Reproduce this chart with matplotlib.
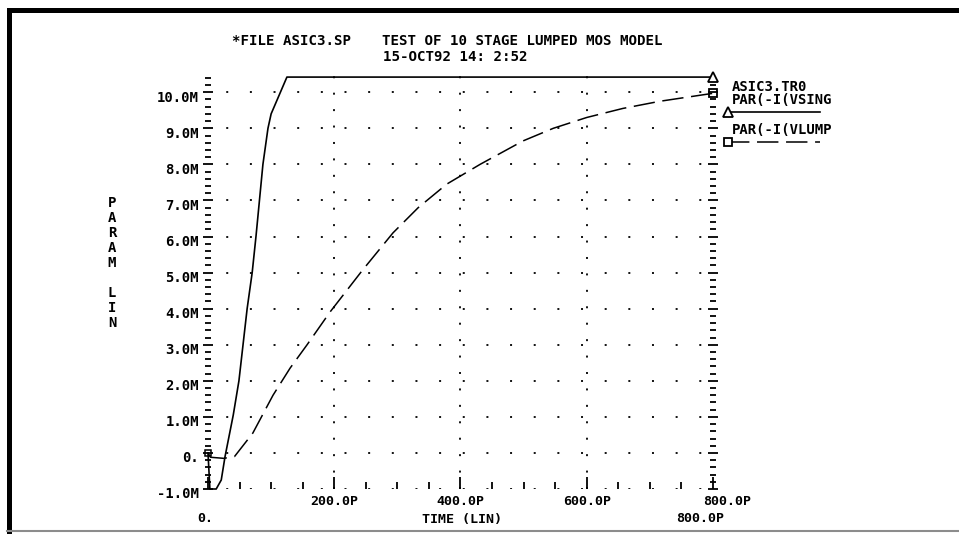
import matplotlib
matplotlib.use('Agg')
import matplotlib.pyplot as plt
from matplotlib.lines import Line2D
from matplotlib.patches import Rectangle
from matplotlib.ticker import FixedLocator, MultipleLocator
from matplotlib.transforms import ScaledTranslation, blended_transform_factory

# ---- data (time in ps, current in mA) ----
t_sing = [0, 3, 13, 21, 27, 40, 49, 62, 70, 76, 87, 95, 100, 125, 800]
i_sing = [0, -1.0, -1.0, -0.75, -0.1, 1.05, 2.0, 4.0, 5.0, 6.0, 8.0, 9.0, 9.4, 10.42, 10.42]

t_lump = [0, 4, 25, 42, 71, 103, 130, 157, 193, 244, 293, 333, 378, 431, 499, 547, 600, 657, 716, 800]
i_lump = [0, -0.12, -0.15, -0.1, 0.55, 1.6, 2.35, 3.0, 3.9, 5.05, 6.1, 6.8, 7.45, 8.0, 8.65, 9.0, 9.3, 9.55, 9.75, 9.97]

y_ticks = [-1, 0, 1, 2, 3, 4, 5, 6, 7, 8, 9, 10]
y_labels = ['-1.0M', '0.', '1.0M', '2.0M', '3.0M', '4.0M', '5.0M',
            '6.0M', '7.0M', '8.0M', '9.0M', '10.0M']
x_ticks = [0, 200, 400, 600, 800]
x_labels = ['', '200.0P', '400.0P', '600.0P', '800.0P']

title_file = '*FILE ASIC3.SP'
title_test = 'TEST OF 10 STAGE LUMPED MOS MODEL'
title_date = '15-OCT92 14: 2:52'
legend_file = 'ASIC3.TR0'
name_sing = 'PAR(-I(VSING'
name_lump = 'PAR(-I(VLUMP'
x_name = 'TIME (LIN)'
x_min_label = '0.'
x_max_label = '800.0P'
y_name = ['P', 'A', 'R', 'A', 'M', '', 'L', 'I', 'N']

plt.rcParams['font.family'] = ['DejaVu Sans Mono']
plt.rcParams['font.weight'] = 'bold'

W, H = 959, 534
fig = plt.figure(figsize=(W / 100, H / 100), dpi=100)
fig.patch.set_facecolor('white')


def fx(px):
    return px / W


def fy(py):
    return 1 - py / H


ax = fig.add_axes([fx(208), fy(489), fx(713) - fx(208), fy(76) - fy(489)])
ax.set_xlim(0, 800)
ax.set_ylim(-1, 10.45)
for s in ax.spines.values():
    s.set_visible(False)

ax.yaxis.set_major_locator(FixedLocator(y_ticks))
ax.set_yticklabels(y_labels)
ax.yaxis.set_minor_locator(MultipleLocator(0.2))
ax.xaxis.set_major_locator(FixedLocator(x_ticks))
ax.set_xticklabels(x_labels)
ax.xaxis.set_minor_locator(MultipleLocator(50))

# dotted grid
ax.yaxis.grid(True, which='major', color='k', lw=1.3, linestyle=(3, (1.1, 12)))
for xv in x_ticks[1:-1]:
    ax.axvline(xv, color='k', lw=1.3, linestyle=(0, (1.1, 8)), zorder=1)

ax.tick_params(axis='y', which='both', direction='inout', left=True, right=True,
               width=1.3, labelsize=10, pad=3)
ax.tick_params(axis='y', which='major', length=7)
ax.tick_params(axis='y', which='minor', length=5)
ax.tick_params(axis='x', which='both', direction='in', bottom=True, top=False,
               width=1.3, labelsize=9.6)
ax.tick_params(axis='x', which='major', length=9, pad=4)
ax.tick_params(axis='x', which='minor', length=5)

offset = ScaledTranslation(0, -4 / 100, fig.dpi_scale_trans)
for lbl in ax.get_yticklabels():
    lbl.set_transform(lbl.get_transform() + offset)
xlbls = ax.get_xticklabels()
xlbls[-1].set_transform(xlbls[-1].get_transform()
                        + ScaledTranslation(14 / 100, 0, fig.dpi_scale_trans))

# curves
ax.plot(t_sing, i_sing, color='k', lw=1.2, clip_on=False, zorder=3)
ax.plot(t_lump, i_lump, color='k', lw=1.1, dashes=(14, 5), clip_on=False, zorder=3)
ax.plot([t_sing[-1]], [i_sing[-1]], marker='^', ms=7, mfc='white', mec='k',
        mew=1.3, clip_on=False, zorder=4)
ax.plot([t_lump[-1]], [i_lump[-1]], marker='s', ms=6, mfc='none', mec='k',
        mew=1.3, clip_on=False, zorder=4)
ax.plot([t_lump[0]], [i_lump[0]], marker='s', ms=4, mfc='none', mec='k',
        mew=1.1, clip_on=False, zorder=4)

# lower x labels (x range)
bt = blended_transform_factory(ax.transData, fig.transFigure)
ax.text(x_ticks[0] - 5, fy(519), x_min_label, transform=bt,
        ha='center', va='center', fontsize=9.6)
ax.text(x_ticks[-1] - 20, fy(519), x_max_label, transform=bt,
        ha='center', va='center', fontsize=9.6)
fig.text(fx(462), fy(519), x_name, ha='center', va='center', fontsize=9.6)

# y axis name (stacked letters)
for k, ch in enumerate(y_name):
    if ch:
        fig.text(fx(112), fy(203 + 15 * k), ch, ha='center', va='center', fontsize=10)

# titles
fig.text(fx(232), fy(41), title_file, ha='left', va='center', fontsize=10.2)
fig.text(fx(382), fy(41), title_test, ha='left', va='center', fontsize=10.2)
fig.text(fx(383), fy(57), title_date, ha='left', va='center', fontsize=10.2)

# legend
fig.text(fx(732), fy(87), legend_file, ha='left', va='center', fontsize=10)
fig.text(fx(732), fy(100), name_sing, ha='left', va='center', fontsize=10)
fig.add_artist(Line2D([fx(728), fx(820)], [fy(112), fy(112)], color='k', lw=1.2,
                      marker='^', markevery=[0], ms=7, mfc='white', mec='k', mew=1.3,
                      transform=fig.transFigure))
fig.text(fx(732), fy(130), name_lump, ha='left', va='center', fontsize=10)
fig.add_artist(Line2D([fx(728), fx(820)], [fy(142), fy(142)], color='k', lw=1.1,
                      dashes=(14, 5), marker='s', markevery=[0], ms=6, mfc='white',
                      mec='k', mew=1.3, transform=fig.transFigure))

# frame
fig.add_artist(Rectangle((fx(7), fy(13)), 1 - fx(7), 5 / H, transform=fig.transFigure,
                         color='k', lw=0))
fig.add_artist(Rectangle((fx(7), 0), 5 / W, fy(8), transform=fig.transFigure,
                         color='k', lw=0))
fig.add_artist(Line2D([fx(7), 1], [fy(531), fy(531)], color='#8c8c8c', lw=1.5,
                      transform=fig.transFigure))

fig.savefig('out.png', dpi=100, facecolor='white')
